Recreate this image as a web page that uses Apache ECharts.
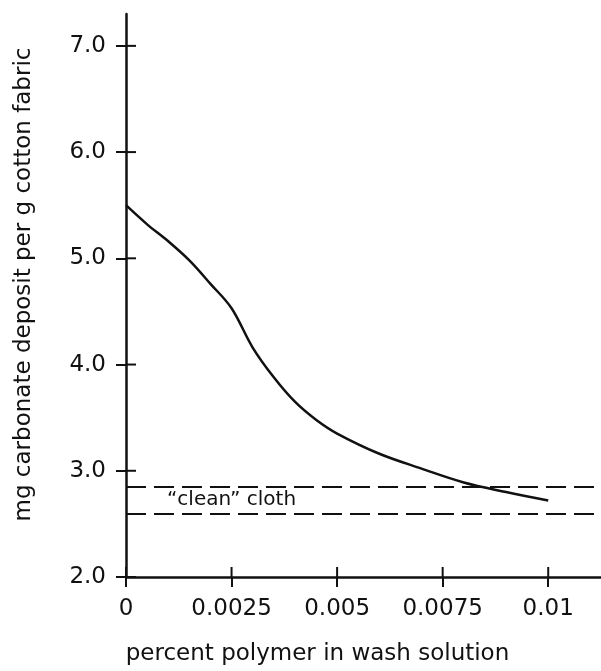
<!DOCTYPE html>
<html>
<head>
<meta charset="utf-8">
<script src="https://cdn.jsdelivr.net/npm/echarts@6/dist/echarts.min.js"></script>
<style>
  html, body { margin: 0; padding: 0; background: #fff; }
  #chart { width: 601px; height: 671px; }
</style>
</head>
<body>
<div id="chart"></div>
<script>
// percent polymer vs carbonate deposit
var polymer = [0, 0.0005, 0.001, 0.0015, 0.002, 0.0025, 0.003, 0.0035, 0.004, 0.0045, 0.005, 0.006, 0.007, 0.008, 0.009, 0.01];
var deposit = [5.50, 5.32, 5.16, 4.98, 4.76, 4.53, 4.16, 3.88, 3.65, 3.48, 3.35, 3.16, 3.02, 2.89, 2.80, 2.72];

// "clean" cloth band
var cleanBand = [2.6, 2.85];

var xTicks = [0, 0.0025, 0.005, 0.0075, 0.01];
var xTickLabels = ['0', '0.0025', '0.005', '0.0075', '0.01'];
var yTicks = [2, 3, 4, 5, 6, 7];

var font = 'DejaVu Sans';
var ink = '#111';
var clear = 'rgba(0,0,0,0)';
var tickLen = 10;

var chart = echarts.init(document.getElementById('chart'));

var seriesData = polymer.map(function (p, i) { return [p, deposit[i]]; });

function xLabel(v) {
    var i = xTicks.indexOf(v);
    return i >= 0 ? xTickLabels[i] : '';
}

// inner half of each tick (the axes draw the outer half), placed through the axis scales
function innerTick(dx, dy) {
    return function (params, api) {
        var p = api.coord([api.value(0), api.value(1)]);
        return {
            type: 'line',
            shape: { x1: p[0], y1: p[1], x2: p[0] + dx, y2: p[1] + dy },
            style: { stroke: ink, lineWidth: 2 }
        };
    };
}

var option = {
    animation: false,
    backgroundColor: '#fff',
    grid: { left: 126, right: 0, top: 14, bottom: 92, containLabel: false },
    xAxis: {
        type: 'value',
        min: 0,
        max: 0.01125,
        splitLine: { show: false },
        axisLine: { lineStyle: { color: ink, width: 2.5 } },
        axisTick: { show: true, inside: false, length: tickLen, customValues: xTicks, lineStyle: { color: ink, width: 2 } },
        axisLabel: {
            customValues: xTicks,
            margin: 21,
            color: ink,
            fontFamily: font,
            fontSize: 23,
            formatter: xLabel
        },
        name: 'percent polymer in wash solution',
        nameLocation: 'middle',
        nameGap: 66,
        nameTextStyle: { color: ink, fontFamily: font, fontSize: 23, padding: [0, 92, 0, 0] }
    },
    yAxis: {
        type: 'value',
        min: 2,
        max: 7.3,
        splitLine: { show: false },
        axisLine: { show: true, lineStyle: { color: ink, width: 2.5 } },
        axisTick: { show: true, inside: false, length: tickLen, customValues: yTicks, lineStyle: { color: ink, width: 2 } },
        axisLabel: {
            customValues: yTicks,
            margin: 20,
            color: ink,
            fontFamily: font,
            fontSize: 23,
            formatter: function (v) { return v.toFixed(1); }
        },
        name: 'mg carbonate deposit per g cotton fabric',
        nameLocation: 'middle',
        nameGap: 90,
        nameTextStyle: { color: ink, fontFamily: font, fontSize: 23, padding: [0, 0, 0, 22] }
    },
    series: [
        {
            type: 'line',
            data: seriesData,
            showSymbol: false,
            smooth: 0.35,
            lineStyle: { color: ink, width: 2.5 },
            markLine: {
                silent: true,
                symbol: 'none',
                label: { show: false },
                lineStyle: { color: ink, width: 2, type: [20, 8] },
                data: cleanBand.map(function (v) { return { yAxis: v }; })
            },
            markArea: {
                silent: true,
                itemStyle: { color: clear },
                label: {
                    show: true,
                    position: 'insideLeft',
                    distance: 41,
                    color: ink,
                    fontFamily: font,
                    fontSize: 20
                },
                data: [[
                    { name: '\u201cclean\u201d cloth', yAxis: cleanBand[0] },
                    { yAxis: cleanBand[1] }
                ]]
            }
        },
        {
            type: 'custom',
            silent: true,
            clip: false,
            data: xTicks.map(function (v) { return [v, yTicks[0]]; }),
            renderItem: innerTick(0, -tickLen)
        },
        {
            type: 'custom',
            silent: true,
            clip: false,
            data: yTicks.map(function (v) { return [xTicks[0], v]; }),
            renderItem: innerTick(tickLen, 0)
        }
    ]
};

chart.setOption(option);
</script>
</body>
</html>
